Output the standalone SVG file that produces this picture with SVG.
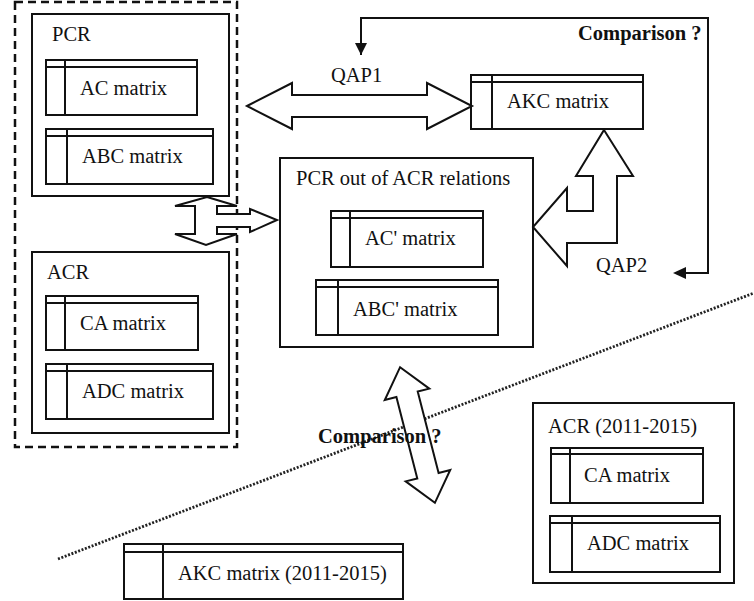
<svg xmlns="http://www.w3.org/2000/svg" width="754" height="601" viewBox="0 0 754 601">
<defs>
<style>
text{font-family:"Liberation Serif","Times New Roman",serif;font-size:20.5px;fill:#111}
.b{font-weight:bold}
.box{fill:#fff;stroke:#111;stroke-width:2}
.ln{fill:none;stroke:#111;stroke-width:2}
.arr{fill:#fff;stroke:#111;stroke-width:2;stroke-linejoin:miter}
.dash{fill:none;stroke:#111;stroke-width:2.5;stroke-dasharray:8 5}
.dot{fill:none;stroke:#222;stroke-width:2.8;stroke-dasharray:2 1.6}
</style>
<marker id="ah" viewBox="0 0 12 12" refX="12" refY="6" markerWidth="12" markerHeight="12" markerUnits="userSpaceOnUse" orient="auto">
<path d="M0,0 L12,6 L0,12 Z" fill="#111"/>
</marker>
</defs>
<rect width="754" height="601" fill="#fff"/>

<g id="dotted-divider">
<line class="dot" x1="58" y1="559" x2="754" y2="293"/>
</g>

<g id="group-dashed">
<rect class="dash" x="15" y="2" width="222" height="445"/>
</g>

<g id="PCR">
<rect class="box" x="32" y="14" width="197" height="182"/>
<text x="52" y="41">PCR</text>
</g>
<g id="AC-matrix">
<rect class="box" x="46" y="60" width="151" height="55"/>
<line class="ln" x1="46" y1="67" x2="197" y2="67"/><line class="ln" x1="65" y1="60" x2="65" y2="115"/>
<text x="80" y="95">AC matrix</text>
</g>
<g id="ABC-matrix">
<rect class="box" x="46" y="129" width="167" height="55"/>
<line class="ln" x1="46" y1="136" x2="213" y2="136"/><line class="ln" x1="67" y1="129" x2="67" y2="184"/>
<text x="82" y="163">ABC matrix</text>
</g>

<g id="ACR">
<rect class="box" x="32" y="252" width="197" height="181"/>
<text x="47" y="279">ACR</text>
</g>
<g id="CA-matrix">
<rect class="box" x="46" y="296" width="152" height="54"/>
<line class="ln" x1="46" y1="303" x2="198" y2="303"/><line class="ln" x1="65" y1="296" x2="65" y2="350"/>
<text x="80" y="330">CA matrix</text>
</g>
<g id="ADC-matrix">
<rect class="box" x="46" y="364" width="167" height="55"/>
<line class="ln" x1="46" y1="371" x2="213" y2="371"/><line class="ln" x1="67" y1="364" x2="67" y2="419"/>
<text x="82" y="398">ADC matrix</text>
</g>

<g id="PCR-out-of-ACR">
<rect class="box" x="280" y="158" width="253" height="189"/>
<text x="296" y="185">PCR out of ACR relations</text>
</g>
<g id="ACp-matrix">
<rect class="box" x="331" y="211" width="152" height="56"/>
<line class="ln" x1="331" y1="218" x2="483" y2="218"/><line class="ln" x1="350" y1="211" x2="350" y2="267"/>
<text x="365" y="245">AC' matrix</text>
</g>
<g id="ABCp-matrix">
<rect class="box" x="316" y="280" width="182" height="55"/>
<line class="ln" x1="316" y1="287" x2="498" y2="287"/><line class="ln" x1="338" y1="280" x2="338" y2="335"/>
<text x="353" y="316">ABC' matrix</text>
</g>

<g id="AKC-matrix">
<rect class="box" x="471" y="75" width="172" height="54"/>
<line class="ln" x1="471" y1="82" x2="643" y2="82"/><line class="ln" x1="492" y1="75" x2="492" y2="129"/>
<text x="507" y="108">AKC matrix</text>
</g>

<g id="AKC-matrix-2011-2015">
<rect class="box" x="124" y="544" width="279" height="55"/>
<line class="ln" x1="124" y1="552" x2="403" y2="552"/><line class="ln" x1="163" y1="544" x2="163" y2="599"/>
<text x="178" y="580">AKC matrix (2011-2015)</text>
</g>

<g id="ACR-2011-2015">
<rect class="box" x="533" y="403" width="201" height="180"/>
<text x="548" y="433">ACR (2011-2015)</text>
</g>
<g id="CA-matrix-2011">
<rect class="box" x="551" y="448" width="152" height="55"/>
<line class="ln" x1="551" y1="454" x2="703" y2="454"/><line class="ln" x1="570" y1="448" x2="570" y2="503"/>
<text x="584" y="482">CA matrix</text>
</g>
<g id="ADC-matrix-2011">
<rect class="box" x="550" y="516" width="170" height="56"/>
<line class="ln" x1="550" y1="523" x2="720" y2="523"/><line class="ln" x1="572" y1="516" x2="572" y2="572"/>
<text x="587" y="550">ADC matrix</text>
</g>

<g id="connectors">
<polygon class="arr" points="207,197 237,206 217,206 217,214 250,214 250,209 277,220 250,232 250,227 217,227 217,234 237,234 206,245 175,234 195,234 195,206 175,206"/>
<polygon class="arr" points="247,106 292,83 292,95 427,95 427,83 472,106 427,129 427,117 292,117 292,129"/>
<polygon class="arr" points="604,130 633,176 617,176 617,243 567,243 567,266 533,227 567,188 567,211 593,211 593,176 576,176"/>
<polygon class="arr" transform="translate(417.5,435) rotate(-14.4)" points="0,-70 23,-42 11,-42 11,42 23,42 0,70 -23,42 -11,42 -11,-42 -23,-42"/>
<polyline class="ln" points="686,273 708,273 708,18 361,18 361,55" marker-end="url(#ah)"/>
<path d="M673,273 L686,267 L686,279 Z" fill="#111"/>
<text x="331" y="82">QAP1</text>
<text x="596" y="272">QAP2</text>
<text class="b" x="578" y="40">Comparison ?</text>
<text class="b" x="318" y="443">Comparison ?</text>
</g>
</svg>
